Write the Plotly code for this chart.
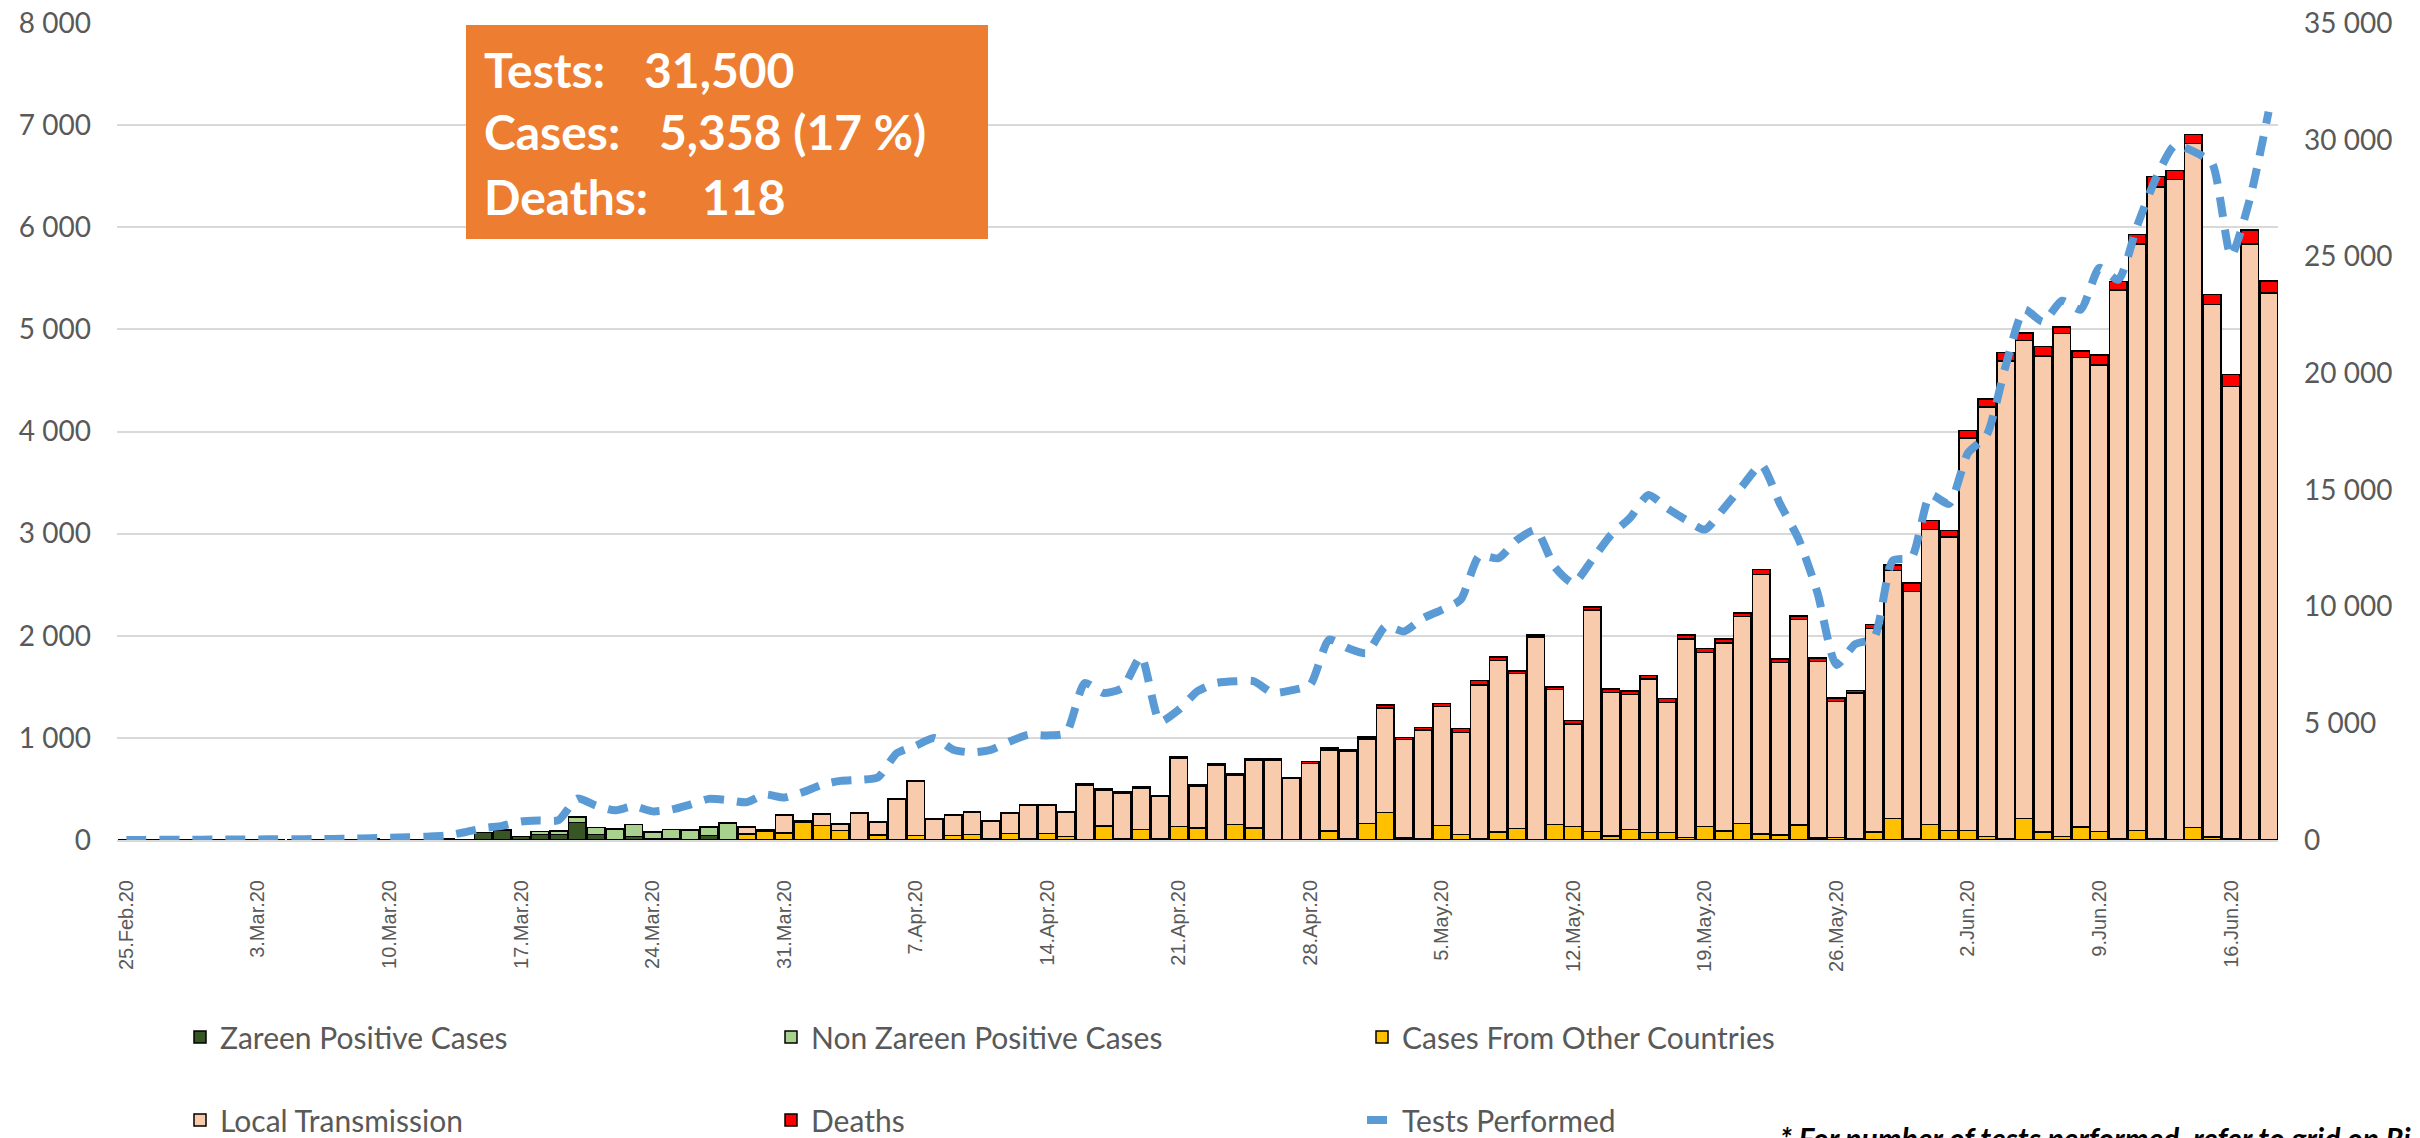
import pandas as pd
import plotly.graph_objects as go

# ---------------- data ----------------
dates = pd.date_range("2020-02-25", "2020-06-18", freq="D")
categories = [f"{d.day}.{d.strftime('%b')}.{d.strftime('%y')}" for d in dates]
tick_labels = categories[::7]

zareen = ([0, 2, 0, 0, 2, 0, 0, 1, 0, 0, 1, 0, 0, 11, 3, 1, 1, 8, 5]
          + [75, 100, 33, 52, 52, 172, 56, 4, 35, 8, 8, 6, 43, 5]
          + [0] * 82)

non_zareen = ([0] * 22
              + [30, 33, 49, 66, 105, 117, 71, 94, 90, 86, 160]
              + [0] * 82)

other_countries = ([0] * 33
                   + [59, 85, 69, 170, 141, 92, 0, 49, 0, 43, 0, 43, 56, 10, 62, 13, 65, 33,
                      0, 137, 10, 101, 16, 131, 118, 0, 153, 120, 0, 0, 0, 88, 10, 160, 267,
                      20, 15, 143, 55, 10, 78, 111, 0, 153, 134, 81, 39, 104, 72, 72, 25, 130,
                      88, 164, 58, 47, 146, 18, 23, 12, 76, 210, 12, 152, 94, 94, 35, 12, 210,
                      76, 35, 129, 82, 12, 94, 10, 0, 123, 29, 10, 5, 5])

local_transmission = ([0] * 33
                      + [63, 14, 169, 10, 108, 65, 258, 121, 402, 529, 203, 199, 219, 173, 200,
                         324, 272, 238, 540, 350, 452, 410, 412, 670, 410, 735, 485, 665, 785,
                         600, 749, 791, 860, 830, 1025, 966, 1060, 1163, 1000, 1510, 1681, 1521,
                         1990, 1319, 1003, 2170, 1407, 1319, 1504, 1276, 1945, 1707, 1842, 2023,
                         2544, 1690, 2012, 1731, 1334, 1427, 1994, 2427, 2421, 2889, 2871, 3842,
                         4205, 4678, 4679, 4661, 4924, 4596, 4567, 5374, 5742, 6382, 6468, 6696,
                         5217, 4429, 5831, 5353])

deaths = ([0] * 22
          + [1, 1, 2, 0, 1, 1, 0, 0, 1, 2, 1, 3, 2, 5]
          + [5, 4, 5, 6, 4, 6, 4, 6, 5, 6, 7, 8, 6, 8, 6]
          + [13, 12, 12, 13, 10, 14, 13, 14, 12, 12, 10, 9]
          + [20, 20, 16, 20, 30, 20, 26, 29, 35, 40]
          + [35, 25, 15, 25, 35, 32, 35, 35, 35, 40, 35, 40, 40]
          + [35, 47, 35, 35, 35, 35, 25, 41, 58, 82, 88, 64, 76, 76, 82, 76, 94, 64, 64, 99,
             82, 94, 105, 88, 88, 94, 117, 136, 118])

tests = ([0, 5, 10, 10, 15, 20, 20, 25, 30, 30, 40, 45, 55]
         + [72, 100, 115, 144, 188, 332, 505, 606, 794, 837, 850, 1776, 1473, 1271, 1444,
            1227, 1300, 1516, 1761, 1704, 1617, 1950, 1820]
         + [2050, 2361, 2533, 2576, 2690, 3720, 4035, 4365, 3864, 3750, 3864, 4220, 4508,
            4480, 4580, 6725, 6300, 6510, 7870, 5080, 5580, 6370, 6725]
         + [6800, 6800, 6300, 6410, 6650, 8580, 8220, 8010, 9150, 8935, 9500, 9860, 10290,
            12180, 12070, 12850, 13280, 11710, 11000, 12000, 13070, 13780, 14780, 14210,
            13710, 13300, 14200]
         + [15170, 16070, 14400, 12870, 10570, 7500, 8390, 8650, 11970, 12100, 14790, 14400,
            16580, 17350, 20290, 22720, 22200, 23100, 22720, 24510, 24000, 26300, 28340,
            29750, 29500, 28980, 25020, 27450, 31200])

box_labels = ["Tests:", "Cases:", "Deaths:"]
box_values = ["31,500", "5,358 (17 %)", "118"]
footnote = "* For number of tests performed, refer to grid on Right"

# ---------------- figure ----------------
GRAY = "#595959"
fig = go.Figure()

bar_specs = [
    ("Zareen Positive Cases", zareen, "#375623", "legend"),
    ("Non Zareen Positive Cases", non_zareen, "#A9D18E", "legend"),
    ("Cases From Other Countries", other_countries, "#FFC000", "legend"),
    ("Local Transmission", local_transmission, "#F8CBAD", "legend2"),
    ("Deaths", deaths, "#FF0000", "legend2"),
]
for name, vals, color, leg in bar_specs:
    fig.add_trace(go.Bar(
        x=categories, y=vals, name=name, legend=leg,
        marker=dict(color=color, line=dict(color="black", width=1.5)),
    ))

fig.add_trace(go.Scatter(
    x=categories, y=tests, name="Tests Performed", yaxis="y2", mode="lines",
    legend="legend2",
    line=dict(color="#5B9BD5", width=8, dash="20px,13px", shape="spline", smoothing=0.6),
))

# the page body has an 8px margin: the figure starts at (8, 8) on the page
OFF = 8
PAGE_W, PAGE_H = 2420, 1138
W, H = PAGE_W - OFF, PAGE_H - OFF
PL, PR, PT, PB = 117, 2278, 23, 840          # plot area on the page
L, T = PL - OFF, PT - OFF
R = W - (PR - OFF)
B = H - (PB - OFF)
pw, ph = PR - PL, PB - PT


def px(X):
    return (X - PL) / pw


def py(Y):
    return (PB - Y) / ph


legend_common = dict(
    orientation="h", xanchor="left", yanchor="middle", traceorder="normal",
    entrywidth=546, entrywidthmode="pixels",
    font=dict(family="Lato, sans-serif", size=30, color=GRAY),
    bgcolor="rgba(0,0,0,0)", itemwidth=30,
)

annotations = []
label_y = [69, 132, 196]
value_x = [645, 660, 703]
for lab, val, yy, vx in zip(box_labels, box_values, label_y, value_x):
    annotations.append(dict(
        xref="paper", yref="paper", x=px(482), y=py(yy), xanchor="left", yanchor="middle",
        text=f"<b>{lab}</b>", showarrow=False,
        font=dict(family="Lato, sans-serif", size=48, color="white")))
    annotations.append(dict(
        xref="paper", yref="paper", x=px(vx - 3), y=py(yy), xanchor="left", yanchor="middle",
        text=f"<b>{val}</b>", showarrow=False,
        font=dict(family="Lato, sans-serif", size=48, color="white")))

annotations.append(dict(
    xref="paper", yref="paper", x=px(1778), y=py(1138), xanchor="left", yanchor="middle",
    text=f"<b><i>{footnote}</i></b>", showarrow=False,
    font=dict(family="Lato, sans-serif", size=30, color="black")))

fig.update_layout(
    width=W, height=H,
    margin=dict(l=L, r=R, t=T, b=B, autoexpand=False),
    barmode="stack", bargap=0.07,
    plot_bgcolor="white", paper_bgcolor="white",
    separators=". ",
    font=dict(family="Lato, sans-serif", color=GRAY),
    xaxis=dict(
        type="category", tickmode="array", tickvals=tick_labels, ticktext=tick_labels,
        tickangle=-90, ticks="", showgrid=False,
        tickfont=dict(family="Liberation Sans, Arial, sans-serif", size=20, color=GRAY),
        showline=True, linecolor="#D9D9D9", linewidth=2, ticklabelstandoff=30,
    ),
    yaxis=dict(
        range=[0, 8000], dtick=1000, tickformat=",d", gridcolor="#D9D9D9", gridwidth=2,
        zeroline=False, ticks="", tickfont=dict(size=28, color=GRAY), ticklabelstandoff=25,
        ticklabeloverflow="allow",
    ),
    yaxis2=dict(
        range=[0, 35000], dtick=5000, tickformat=",d", overlaying="y", side="right",
        showgrid=False, zeroline=False, ticks="", tickfont=dict(size=28, color=GRAY),
        ticklabelstandoff=25, ticklabeloverflow="allow",
    ),
    legend=dict(x=px(180), y=py(1037), **legend_common),
    legend2=dict(x=px(180), y=py(1120), **legend_common),
    shapes=[dict(type="rect", xref="paper", yref="paper",
                 x0=px(466), x1=px(988), y0=py(239), y1=py(25),
                 fillcolor="#ED7D31", line=dict(width=0), layer="above")],
    annotations=annotations,
)

fig.write_html("out.html")
